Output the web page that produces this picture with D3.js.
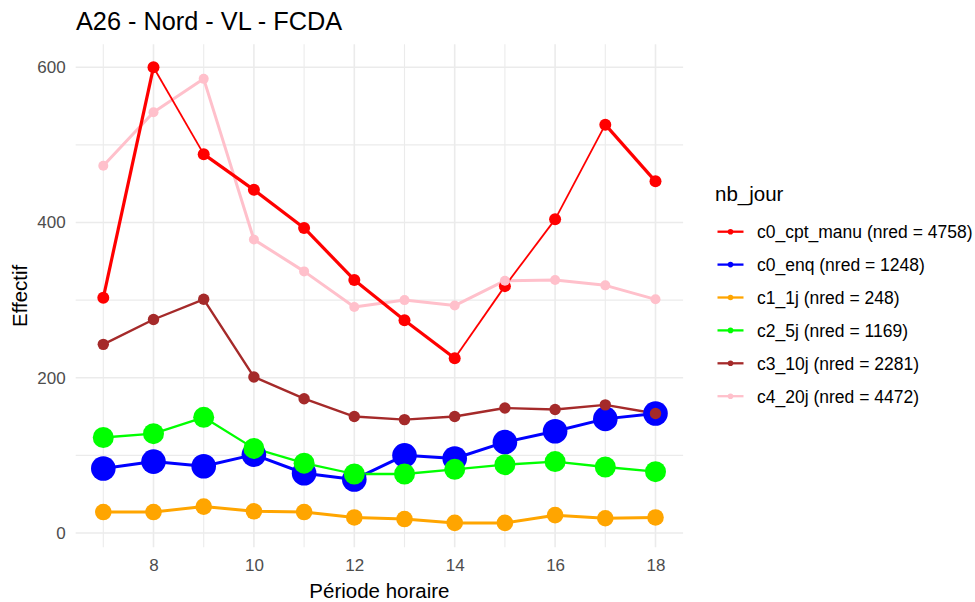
<!DOCTYPE html>
<html><head><meta charset="utf-8">
<script src="https://cdn.jsdelivr.net/npm/d3@7"></script>
<style>body{margin:0;background:#fff} svg{display:block;font-family:"Liberation Sans",Arial,sans-serif}</style>
</head><body><svg id="c" width="975" height="602"></svg>
<script>
// ---- data ----
const hours = [7,8,9,10,11,12,13,14,15,16,17,18];
const c0_cpt_manu = [303,600,488,442,393,326,274,225,318,404,526,453];
const c0_enq      = [83,92,86,101,77,69,100,96,117,131,147,154];
const c1_1j       = [27,27,34,28,27,20,18,13,13,23,19,20];
const c2_5j       = [123,128,149,109,90,76,76,82,88,92,85,79];
const c3_10j      = [243,275,301,201,173,150,146,150,161,159,165,154];
const c4_20j      = [473,542,585,378,337,291,300,293,325,326,319,301];
const seriesNames = ["c0_cpt_manu","c0_enq","c1_1j","c2_5j","c3_10j","c4_20j"];
const nred        = [4758,1248,248,1169,2281,4472];
const yTicks = [0,200,400,600];
const yMinor = [100,300,500];
const xTicks = [8,10,12,14,16,18];
const xMinor = [7,9,11,13,15,17];
const titleText = "A26 - Nord - VL - FCDA";
const xTitle = "Période horaire";
const yTitle = "Effectif";
const legendTitle = "nb_jour";

const values = {c0_cpt_manu, c0_enq, c1_1j, c2_5j, c3_10j, c4_20j};

// ---- styles ----
const T = 3.2, t = 1.8;
const style = {
  c0_cpt_manu:{color:"#FF0000", r:6,   lw:[T,t,T,T,T,T,T,t,t,t,T]},
  c0_enq:     {color:"#0000FF", r:12.3, lw:3},
  c1_1j:      {color:"#FFA500", r:8.3, lw:3},
  c2_5j:      {color:"#00FF00", r:10.5, lw:2.3},
  c3_10j:     {color:"#A52A2A", r:5.7, lw:2.4},
  c4_20j:     {color:"#FFC0CB", r:5,   lw:3}
};
const lineOrder = ["c4_20j","c0_cpt_manu","c0_enq","c1_1j","c2_5j","c3_10j"];
const pointOrder = ["c0_cpt_manu","c0_enq","c1_1j","c2_5j","c3_10j","c4_20j"];

const svg = d3.select("#c");
const x = d3.scaleLinear().domain([7,18]).range([103.3,655.5]);
const y = d3.scaleLinear().domain([0,600]).range([533,67.2]);
const px0 = x(6.45), px1 = x(18.55);
const py0 = y(-18.5), py1 = y(629.5);

const grid = svg.append("g");
xMinor.forEach(v=>grid.append("line").attr("x1",x(v)).attr("x2",x(v)).attr("y1",py1).attr("y2",py0).attr("stroke","#ebebeb").attr("stroke-width",1.1));
yMinor.forEach(v=>grid.append("line").attr("x1",px0).attr("x2",px1).attr("y1",y(v)).attr("y2",y(v)).attr("stroke","#ebebeb").attr("stroke-width",1.1));
xTicks.forEach(v=>grid.append("line").attr("x1",x(v)).attr("x2",x(v)).attr("y1",py1).attr("y2",py0).attr("stroke","#ebebeb").attr("stroke-width",1.6));
yTicks.forEach(v=>grid.append("line").attr("x1",px0).attr("x2",px1).attr("y1",y(v)).attr("y2",y(v)).attr("stroke","#ebebeb").attr("stroke-width",1.6));

// axes labels via d3 axes
const xAxis = svg.append("g").attr("transform",`translate(0,${py0})`)
  .call(d3.axisBottom(x).tickValues(xTicks).tickSize(0).tickPadding(12).tickFormat(d3.format("d")));
xAxis.select(".domain").remove();
xAxis.selectAll("text").attr("fill","#4d4d4d").style("font-size","17px").style("font-family","'Liberation Sans',Arial,sans-serif");
const yAxis = svg.append("g").attr("transform",`translate(${px0},0)`)
  .call(d3.axisLeft(y).tickValues(yTicks).tickSize(0).tickPadding(10).tickFormat(d3.format("d")));
yAxis.select(".domain").remove();
yAxis.selectAll("text").attr("fill","#4d4d4d").style("font-size","17px").style("font-family","'Liberation Sans',Arial,sans-serif");

// lines
const gl = svg.append("g");
lineOrder.forEach(name=>{
  const s = style[name], v = values[name];
  if (Array.isArray(s.lw)) {
    for (let i=0;i<hours.length-1;i++){
      gl.append("path").attr("d", d3.line()([[x(hours[i]),y(v[i])],[x(hours[i+1]),y(v[i+1])]]))
        .attr("fill","none").attr("stroke",s.color).attr("stroke-width",s.lw[i]).attr("stroke-linecap","butt");
    }
  } else {
    gl.append("path").datum(hours.map((h,i)=>[h,v[i]]))
      .attr("d", d3.line().x(d=>x(d[0])).y(d=>y(d[1])))
      .attr("fill","none").attr("stroke",s.color).attr("stroke-width",s.lw).attr("stroke-linejoin","round");
  }
});
// points
const gp = svg.append("g");
pointOrder.forEach(name=>{
  const s = style[name], v = values[name];
  gp.selectAll(null).data(hours.map((h,i)=>[h,v[i]])).enter().append("circle")
    .attr("cx",d=>x(d[0])).attr("cy",d=>y(d[1])).attr("r",s.r).attr("fill",s.color);
});

// titles
svg.append("text").attr("x",76).attr("y",30).text(titleText).attr("font-size",25.3).attr("fill","#000");
svg.append("text").attr("x",(px0+px1)/2).attr("y",598).attr("text-anchor","middle").text(xTitle).attr("font-size",20.5).attr("fill","#000");
svg.append("text").attr("transform",`translate(27,${(py0+py1)/2}) rotate(-90)`).attr("text-anchor","middle").text(yTitle).attr("font-size",20.5).attr("fill","#000");

// legend
const lg = svg.append("g");
lg.append("text").attr("x",715).attr("y",200.5).text(legendTitle).attr("font-size",20.5).attr("fill","#000");
seriesNames.forEach((name,i)=>{
  const cy = 231.7 + i*32.9;
  const s = style[name];
  lg.append("line").attr("x1",717.5).attr("x2",743.5).attr("y1",cy).attr("y2",cy).attr("stroke",s.color).attr("stroke-width",2.3);
  lg.append("circle").attr("cx",730.5).attr("cy",cy).attr("r",2.8).attr("fill",s.color);
  lg.append("text").attr("x",757).attr("y",cy).attr("dy","0.36em").text(`${name} (nred = ${nred[i]})`).attr("font-size",17.5).attr("fill","#000");
});
</script></body></html>
